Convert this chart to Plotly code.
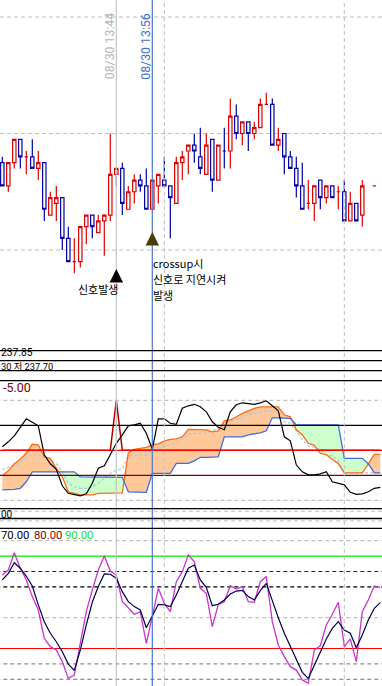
import plotly.graph_objects as go

W, H = 382, 686
def py(y):
    return 1 - y / H
def px(x):
    return x / W

# ---------------- data ----------------
candle_idx = list(range(61)) + [62]
opens = [238.75, 238.55, 238.75, 238.95, 238.80, 238.80, 238.70, 238.75, 238.30, 238.40,
         238.45, 238.10, 237.90, 237.90, 238.20, 238.30, 238.15, 238.25, 238.30, 238.65,
         238.70, 238.35, 238.50, 238.60, 238.55, 238.35, 238.55, 238.60, 238.55, 238.40,
         238.75, 238.85, 238.90, 238.80, 238.65, 238.95, 238.60, 238.85, 238.85, 239.15,
         239.00, 239.10, 239.00, 239.05, 239.25, 239.25, 238.90, 239.00, 238.80, 238.70,
         238.55, 238.40, 238.40, 238.60, 238.45, 238.55, 238.50, 238.50, 238.25, 238.40,
         238.30, 238.55]
highs = [238.80, 238.75, 238.95, 238.95, 238.85, 238.95, 238.85, 238.75, 238.50, 238.55,
         238.45, 238.20, 238.10, 238.20, 238.30, 238.30, 238.30, 238.30, 239.00, 238.70,
         238.75, 238.55, 238.65, 238.65, 238.70, 238.60, 238.65, 238.80, 238.55, 238.80,
         238.85, 238.90, 239.00, 239.05, 239.00, 238.95, 238.90, 239.05, 239.30, 239.25,
         239.10, 239.10, 239.10, 239.30, 239.35, 239.30, 239.05, 239.00, 238.85, 238.80,
         238.75, 238.60, 238.55, 238.60, 238.55, 238.55, 238.55, 238.60, 238.50, 238.40,
         238.60, 238.55]
lows = [238.55, 238.50, 238.70, 238.70, 238.65, 238.70, 238.60, 238.25, 238.30, 238.25,
        238.00, 237.90, 237.80, 237.85, 238.05, 238.10, 238.15, 237.95, 238.25, 238.55,
        238.30, 238.35, 238.40, 238.50, 238.35, 238.35, 238.40, 238.55, 238.10, 238.40,
        238.60, 238.65, 238.75, 238.65, 238.65, 238.50, 238.60, 238.70, 238.70, 238.95,
        238.90, 238.85, 238.95, 239.05, 239.25, 238.90, 238.85, 238.65, 238.70, 238.45,
        238.35, 238.35, 238.25, 238.35, 238.40, 238.45, 238.35, 238.25, 238.25, 238.25,
        238.20, 238.55]
closes = [238.55, 238.75, 238.95, 238.80, 238.80, 238.70, 238.75, 238.35, 238.45, 238.45,
          238.10, 237.90, 237.90, 238.20, 238.30, 238.20, 238.25, 238.30, 238.65, 238.70,
          238.40, 238.50, 238.60, 238.55, 238.35, 238.60, 238.65, 238.55, 238.45, 238.75,
          238.80, 238.90, 238.85, 238.70, 238.90, 238.60, 238.90, 238.85, 239.15, 239.00,
          239.10, 239.00, 239.05, 239.25, 239.25, 238.90, 238.95, 238.80, 238.70, 238.55,
          238.35, 238.40, 238.55, 238.45, 238.55, 238.45, 238.50, 238.25, 238.40, 238.25,
          238.55, 238.55]
candle_dir = ["b", "r", "r", "b", "r", "b", "r", "b", "r", "r",
              "b", "b", "r", "r", "r", "b", "r", "r", "r", "r",
              "b", "r", "r", "b", "b", "r", "r", "b", "b", "r",
              "r", "r", "b", "b", "r", "b", "r", "b", "r", "b",
              "r", "b", "r", "r", "r", "b", "r", "b", "b", "b",
              "b", "r", "r", "b", "r", "b", "r", "b", "r", "b",
              "r", "r"]
price_grid = [238.0, 239.0, 240.0]

ind_idx = list(range(64))
oscillator = [0.7, 1.7, 2.9, 4.6, 6.3, 5.6, 4.9, -0.9, -2.7, -3.8,
              -7.1, -8.6, -8.8, -9.1, -8.7, -6.6, -3.6, -3.1, -0.9, 1.4,
              3.1, 4.9, 5.1, 5.4, 3.4, 0.2, 6.3, 6.3, 5.4, 5.2,
              8.4, 8.9, 9.2, 8.7, 7.7, 5.7, 4.6, 4.1, 7.7, 9.1,
              9.5, 9.3, 9.2, 9.5, 9.9, 8.9, 7.9, 2.7, 1.9, -2.9,
              -4.3, -4.9, -4.9, -4.7, -4.3, -6.3, -6.6, -6.9, -8.4, -8.8,
              -8.7, -8.3, -7.6, -7.4]
span_a = [-5.1, -4.1, -2.7, -1.8, -0.6, 1.2, 1.1, -1.3, -1.6, -3.6,
          -5.3, -8.3, -8.6, -8.9, -8.9, -8.9, -8.6, -8.6, -8.5, -8.5,
          -8.5, -0.5, 0.2, 0.4, 0.6, 1.1, 1.3, 1.9, 2.2, 2.3,
          2.7, 4.2, 4.2, 4.1, 4.1, 3.7, 3.9, 5.9, 6.1, 6.7,
          7.4, 7.9, 8.4, 8.7, 8.7, 8.7, 8.7, 7.1, 6.7, 4.1,
          3.1, 1.4, 1.0, -0.6, -0.9, -1.8, -2.7, -4.5, -4.5, -4.5,
          -4.5, -2.7, -0.8, -0.8]
span_b = [-7.9, -7.9, -7.8, -7.6, -6.3, -4.3, -4.3, -4.3, -4.3, -4.3,
          -4.3, -4.3, -4.3, -5.3, -5.3, -5.3, -5.3, -5.3, -5.3, -5.3,
          -5.4, -8.3, -8.3, -8.4, -8.4, -4.6, -4.6, -4.6, -4.6, -2.6,
          -2.6, -2.6, -2.1, -1.4, -1.4, -1.4, -1.3, 2.7, 2.7, 2.7,
          2.7, 3.1, 3.3, 3.5, 3.9, 6.5, 6.5, 6.4, 6.4, 5.1,
          5.1, 5.1, 5.1, 5.1, 5.1, 5.1, 5.1, -1.6, -1.6, -1.6,
          -1.6, -2.7, -4.5, -4.5]
lagging = [-3.9, -3.4, -3.1, -2.5, -1.3, -0.9, -0.9, -1.4, -1.9, -2.7,
           -4.3, -6.6, -7.3, -7.6, -7.6, -7.3, -6.6, -5.6, -4.6, -3.9,
           -3.8, -1.1, -0.9, -0.9, -0.9, 0.1, 0.4, 0.7, 1.1, 1.7,
           2.2, 3.3, 3.3, 3.4, 3.5, 3.9, 4.4, 5.4, 5.7, 6.1,
           6.6, 7.1, 7.4, 7.7, 7.9, 7.9, 7.7, 5.7, 5.4, 3.9,
           2.1, 0.9, 0.6, 0.1, -0.9, -1.1, -2.1, -4.5, -4.5, -4.5,
           -4.5, -4.5, -4.5, -4.5]
signal = [0, 0, 0, 0, 0, 0, 0, 0, 0, 0,
          0, 0, 0, 0, 0, 0, 0, 0, 0, 10,
          0, 0, 0, 0, 0, 0, 0, 0, 0, 0,
          0, 0, 0, 0, 0, 0, 0, 0, 0, 0,
          0, 0, 0, 0, 0, 0, 0, 0, 0, 0,
          0, 0, 0, 0, 0, 0, 0, 0, 0, 0,
          0, 0, 0, 0]
stoch_k = [77.7, 81.0, 92.2, 82.1, 74.5, 63.7, 55.0, 36.6, 31.2, 29.0,
           21.5, 10.6, 12.8, 32.3, 53.9, 68.0, 81.0, 90.1, 80.3, 77.7,
           60.4, 56.5, 52.2, 53.9, 33.4, 50.7, 69.1, 59.3, 53.9, 73.4,
           79.9, 90.7, 86.4, 69.1, 65.8, 44.2, 58.7, 60.4, 70.8, 68.6,
           70.2, 60.4, 60.0, 73.4, 76.7, 47.4, 32.3, 24.7, 18.2, 16.0,
           9.6, 7.4, 29.0, 31.8, 45.3, 52.2, 60.0, 31.2, 36.2, 21.5,
           53.9, 61.5, 70.6, 69.5]
stoch_d = [74.5, 78.8, 85.7, 82.1, 76.9, 70.6, 58.3, 47.4, 39.9, 34.4,
           27.9, 19.9, 15.8, 29.0, 45.3, 60.0, 70.2, 78.4, 78.2, 75.6,
           66.9, 60.4, 57.2, 55.0, 43.5, 50.7, 58.7, 58.3, 57.2, 64.7,
           73.4, 82.1, 84.2, 74.5, 69.7, 57.8, 58.7, 61.5, 65.4, 67.3,
           67.8, 63.7, 61.5, 67.6, 72.3, 60.9, 50.0, 39.9, 31.2, 22.1,
           14.5, 10.6, 19.3, 27.9, 36.2, 43.1, 47.4, 42.0, 39.9, 30.5,
           38.8, 48.5, 56.1, 59.8]

osc_levels = [(10, "#c0c0c0", "4px,3px"), (5, "#000000", "solid"), (0, "#ff0000", "solid"),
              (-5, "#800000", "solid"), (-10, "#c0c0c0", "4px,3px")]
stoch_levels = [(100, "#c0c0c0", "4px,3px"), (90, "#00ee00", "solid"), (80, "#800000", "4px,3px"),
                (70, "#000000", "4px,3px"), (50, "#c0c0c0", "4px,3px"), (30, "#ff0000", "solid"),
                (20, "#909090", "4px,3px"), (10, "#909090", "4px,3px")]

marker_idx = [19, 25]          # 08/30 13:44 and 08/30 13:56
grid_idx = [27, 57]

RED = "#dd0000"
BLUE = "#0000aa"

fig = go.Figure()

# ---------------- candles ----------------
for code, col in (("r", RED), ("b", BLUE)):
    sel = [k for k in range(len(candle_idx)) if candle_dir[k] == code]
    style = dict(line=dict(color=col, width=1.2), fillcolor="white")
    fig.add_trace(go.Candlestick(
        x=[candle_idx[k] for k in sel],
        open=[opens[k] for k in sel], high=[highs[k] for k in sel],
        low=[lows[k] for k in sel], close=[closes[k] for k in sel],
        increasing=style, decreasing=style, whiskerwidth=0,
        xaxis="x", yaxis="y", showlegend=False, hoverinfo="skip"))

# ---------------- cloud ----------------
def split(xs, a, b):
    X, A, B = [], [], []
    for k in range(len(xs)):
        if k > 0:
            d0 = a[k - 1] - b[k - 1]
            d1 = a[k] - b[k]
            if d0 * d1 < 0:
                t = d0 / (d0 - d1)
                X.append(xs[k - 1] + t * (xs[k] - xs[k - 1]))
                yc = a[k - 1] + t * (a[k] - a[k - 1])
                A.append(yc)
                B.append(yc)
        X.append(xs[k]); A.append(a[k]); B.append(b[k])
    return X, A, B

X, A, B = split(ind_idx, span_a, span_b)
hi = [max(p, q) for p, q in zip(A, B)]
lo = [min(p, q) for p, q in zip(A, B)]
fig.add_trace(go.Scatter(x=X + X[::-1], y=hi + B[::-1], fill="toself", fillcolor="#ffc898",
                         line=dict(width=0), mode="lines", xaxis="x", yaxis="y2",
                         showlegend=False, hoverinfo="skip"))
fig.add_trace(go.Scatter(x=X + X[::-1], y=B + lo[::-1], fill="toself", fillcolor="#ccffcc",
                         line=dict(width=0), mode="lines", xaxis="x", yaxis="y2",
                         showlegend=False, hoverinfo="skip"))
fig.add_trace(go.Scatter(x=ind_idx, y=lagging, mode="lines",
                         line=dict(color="#a8c8f0", width=1.2, dash="3px,2px"),
                         xaxis="x", yaxis="y2", showlegend=False, hoverinfo="skip"))
fig.add_trace(go.Scatter(x=ind_idx, y=span_a, mode="lines", line=dict(color="#ff6a10", width=1.3),
                         xaxis="x", yaxis="y2", showlegend=False, hoverinfo="skip"))
fig.add_trace(go.Scatter(x=ind_idx, y=span_b, mode="lines", line=dict(color="#3f6fdc", width=1.3),
                         xaxis="x", yaxis="y2", showlegend=False, hoverinfo="skip"))
fig.add_trace(go.Scatter(x=ind_idx, y=signal, mode="lines", line=dict(color="#b00000", width=1.5),
                         xaxis="x", yaxis="y2", showlegend=False, hoverinfo="skip"))
for lv, col, dsh in osc_levels:
    fig.add_trace(go.Scatter(x=[-1, 64], y=[lv, lv], mode="lines",
                             line=dict(color=col, width=1.2, dash=dsh),
                             xaxis="x", yaxis="y2", showlegend=False, hoverinfo="skip"))
fig.add_trace(go.Scatter(x=ind_idx, y=oscillator, mode="lines", line=dict(color="#000000", width=1.2),
                         xaxis="x", yaxis="y2", showlegend=False, hoverinfo="skip"))

# ---------------- stochastic ----------------
for lv, col, dsh in stoch_levels:
    fig.add_trace(go.Scatter(x=[-1, 64], y=[lv, lv], mode="lines",
                             line=dict(color=col, width=1.2, dash=dsh),
                             xaxis="x", yaxis="y3", showlegend=False, hoverinfo="skip"))
fig.add_trace(go.Scatter(x=ind_idx, y=stoch_k, mode="lines", line=dict(color="#cc33cc", width=1.3),
                         xaxis="x", yaxis="y3", showlegend=False, hoverinfo="skip"))
fig.add_trace(go.Scatter(x=ind_idx, y=stoch_d, mode="lines", line=dict(color="#000050", width=1.2),
                         xaxis="x", yaxis="y3", showlegend=False, hoverinfo="skip"))

# ---------------- shapes ----------------
shapes = []
for g in price_grid:
    shapes.append(dict(type="line", xref="paper", yref="y", x0=0, x1=1, y0=g, y1=g, layer="below",
                       line=dict(color="#c0c0c0", width=1, dash="4px,3px")))
for gi in grid_idx:
    shapes.append(dict(type="line", xref="x", yref="paper", x0=gi, x1=gi, y0=0, y1=1, layer="above",
                       line=dict(color="#c0c0c0", width=1, dash="4px,3px")))
shapes.append(dict(type="line", xref="x", yref="paper", x0=marker_idx[0], x1=marker_idx[0], y0=0, y1=1,
                   layer="above", line=dict(color="#c4c4c4", width=1.2)))
shapes.append(dict(type="line", xref="x", yref="paper", x0=marker_idx[1], x1=marker_idx[1], y0=0, y1=1,
                   layer="above", line=dict(color="#4a74cc", width=1.2)))
for yy in (350.7, 360.7, 370.7, 380.7, 508.7, 518.5, 528.3):
    shapes.append(dict(type="line", xref="paper", yref="paper", x0=0, x1=1, y0=py(yy), y1=py(yy),
                       layer="above", line=dict(color="#000000", width=1.3)))
for yy in (511.2, 520.9):
    shapes.append(dict(type="line", xref="paper", yref="paper", x0=0, x1=1, y0=py(yy), y1=py(yy),
                       layer="above", line=dict(color="#c0c0c0", width=1, dash="4px,3px")))

# ---------------- annotations ----------------
NUM = "Roboto, Noto Sans CJK KR"
KR = "Noto Sans CJK KR"
ann = []
def txt(s, x, y, size, color="#000000", family=NUM, xanchor="left", angle=0):
    ann.append(dict(text=s, x=px(x), y=py(y), xref="paper", yref="paper", showarrow=False,
                    xanchor=xanchor, yanchor="middle", textangle=angle, borderpad=0,
                    font=dict(size=size, color=color, family=family)))

txt("08/30 13:44", 109.5, 46.7, 12.3, "#b4b4b4", xanchor="center", angle=-90)
txt("08/30 13:56", 146, 46.7, 12.3, "#3b6fd4", xanchor="center", angle=-90)
txt("신호발생", 98, 288.5, 11, family=KR, xanchor="center")
txt("crossup시", 152, 263, 11, family=KR)
txt("신호로 지연시켜", 152, 279, 11, family=KR)
txt("발생", 152, 295, 11, family=KR)
txt("237.85", 0, 352.8, 10.3)
txt("30 저 237.70", 0, 366.8, 9.3)
txt("-5.00", 2, 387.5, 12.5, "#800000")
txt("00", 0, 514, 10)
txt("70.00", 0, 535, 11.3, "#000000")
txt("80.00", 33, 535, 11.3, "#800000")
txt("90.00", 64, 535, 11.3, "#22dd22")

ann.append(dict(text="", x=px(116.3), y=py(269), xref="paper", yref="paper", showarrow=True,
                ax=0, ay=14, arrowhead=2, arrowsize=0.9, arrowwidth=3, arrowcolor="#000000"))
ann.append(dict(text="", x=px(152.3), y=py(232), xref="paper", yref="paper", showarrow=True,
                ax=0, ay=12, arrowhead=2, arrowsize=0.9, arrowwidth=3, arrowcolor="#4a3c08"))

ax_common = dict(showgrid=False, zeroline=False, showticklabels=False, ticks="", showline=False)
fig.update_layout(
    width=W, height=H, margin=dict(l=0, r=0, t=0, b=0),
    paper_bgcolor="white", plot_bgcolor="white", showlegend=False,
    boxgap=0.2, boxmode="overlay",
    xaxis=dict(range=[-0.383, 63.283], domain=[0, 1], anchor="y3",
               rangeslider=dict(visible=False), **ax_common),
    yaxis=dict(domain=[py(350.7), 1], range=[238 - 100.7 / 116.5, 238 + 250 / 116.5],
               anchor="x", **ax_common),
    yaxis2=dict(domain=[py(508.7), py(380.7)], range=[-11.68, 13.92], anchor="x", **ax_common),
    yaxis3=dict(domain=[0, py(528.3)], range=[5.65, 108.05], anchor="x", **ax_common),
    shapes=shapes, annotations=ann,
)

fig.write_html("out.html", config={"displayModeBar": False},
               post_script="document.body.style.margin='0';document.body.style.padding='0';"
                           "document.body.style.overflow='hidden';")
